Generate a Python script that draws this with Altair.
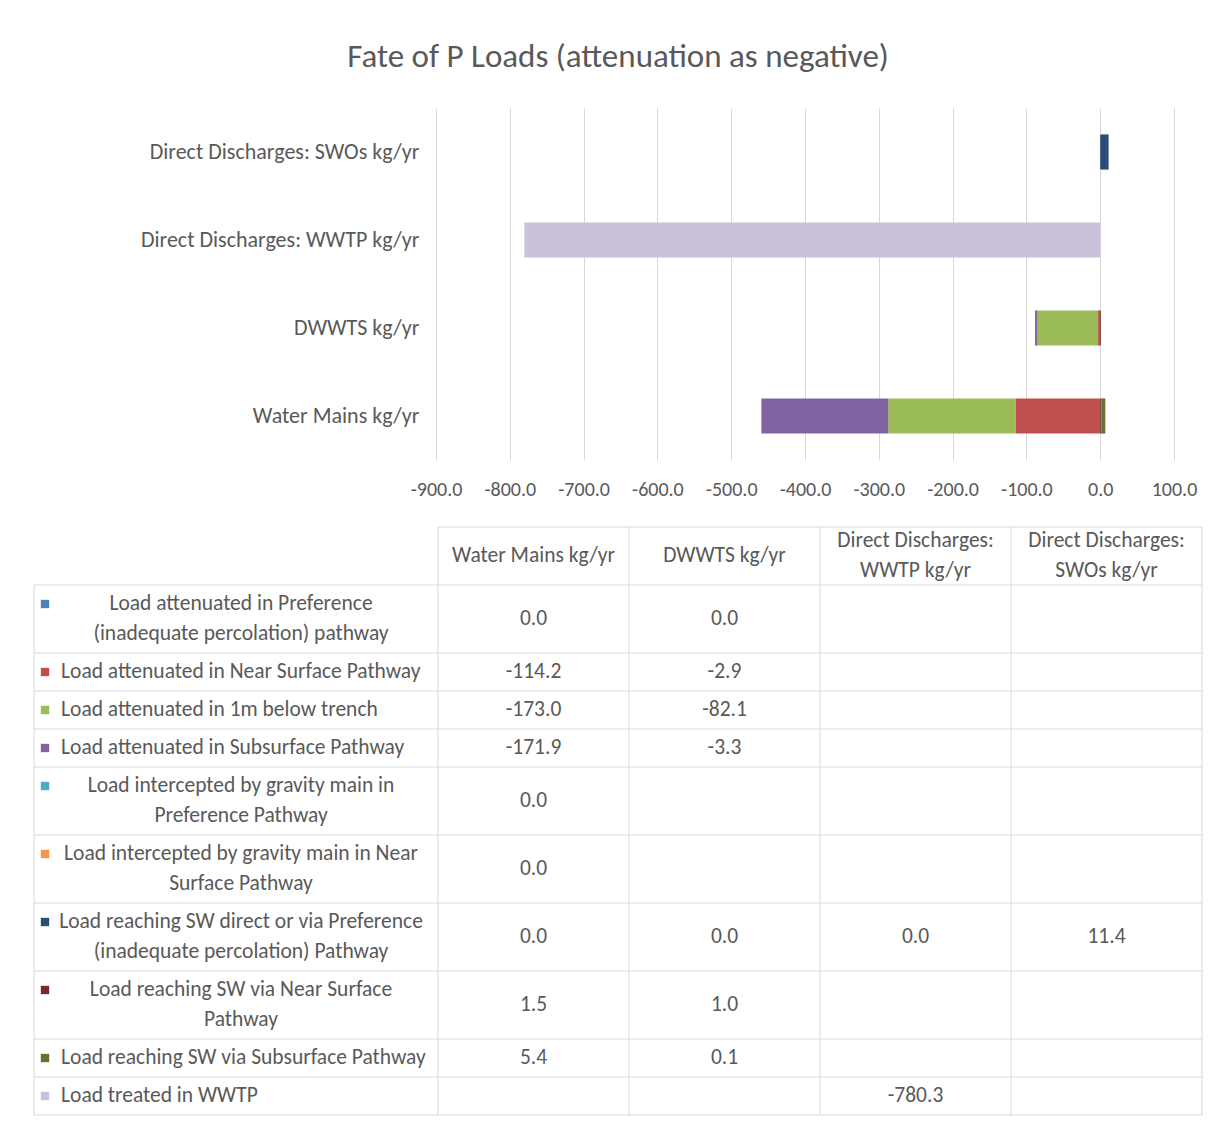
import altair as alt
import pandas as pd

# ---------------- data ----------------
TITLE = "Fate of P Loads (attenuation as negative)"

categories = [
    "Water Mains kg/yr",
    "DWWTS kg/yr",
    "Direct Discharges: WWTP kg/yr",
    "Direct Discharges: SWOs kg/yr",
]
header_labels = [
    "Water Mains kg/yr",
    "DWWTS kg/yr",
    "Direct Discharges:\nWWTP kg/yr",
    "Direct Discharges:\nSWOs kg/yr",
]

series = [
    "Load attenuated in Preference (inadequate percolation) pathway",
    "Load attenuated in Near Surface Pathway",
    "Load attenuated in 1m below trench",
    "Load attenuated in Subsurface Pathway",
    "Load intercepted by gravity main in Preference Pathway",
    "Load intercepted by gravity main in Near Surface Pathway",
    "Load reaching SW direct or via Preference (inadequate percolation) Pathway",
    "Load reaching SW via Near Surface Pathway",
    "Load reaching SW via Subsurface Pathway",
    "Load treated in WWTP",
]
series_table_labels = [
    "Load attenuated in Preference\n(inadequate percolation) pathway",
    "Load attenuated in Near Surface Pathway",
    "Load attenuated in 1m below trench",
    "Load attenuated in Subsurface Pathway",
    "Load intercepted by gravity main in\nPreference Pathway",
    "Load intercepted by gravity main in Near\nSurface Pathway",
    "Load reaching SW direct or via Preference\n(inadequate percolation) Pathway",
    "Load reaching SW via Near Surface\nPathway",
    "Load reaching SW via Subsurface Pathway",
    "Load treated in WWTP",
]
series_colors = [
    "#4F81BD", "#C0504D", "#9BBB59", "#8064A2", "#4BACC6",
    "#F79646", "#2C4D75", "#772C2A", "#5F7530", "#CCC1DA",
]

water_mains = [0.0, -114.2, -173.0, -171.9, 0.0, 0.0, 0.0, 1.5, 5.4, None]
dwwts = [0.0, -2.9, -82.1, -3.3, None, None, 0.0, 1.0, 0.1, None]
wwtp = [None, None, None, None, None, None, 0.0, None, None, -780.3]
swos = [None, None, None, None, None, None, 11.4, None, None, None]
columns_values = [water_mains, dwwts, wwtp, swos]

x_ticks = [-900, -800, -700, -600, -500, -400, -300, -200, -100, 0, 100]

# ---------------- style / layout ----------------
FONT = "Carlito, Lato, sans-serif"
TXT = "#595959"
GRID = "#D9D9D9"
FS_AXIS = 22
FS_TICK = 20
FS_TABLE = 21.5

PLOT_W = 738
PLOT_H = 352
LEGEND_W = 404          # width of the table's label column
COL_W = 191             # width of each data column
HEADER_H = 58
LINE_H = 30
ROW_PAD = 8
TABLE_LEFT = 402        # table's label column sits this far left of the plot origin

# ---------------- bar chart ----------------
bar_rows = []
for ci, (cat, vals) in enumerate(zip(categories, columns_values)):
    for si, v in enumerate(vals):
        if v is not None:
            bar_rows.append({"category": cat, "series": series[si], "idx": si, "value": v})
bar_df = pd.DataFrame(bar_rows)

color_enc = alt.Color("series:N", scale=alt.Scale(domain=series, range=series_colors), legend=None)

bars = alt.Chart(bar_df).mark_bar().encode(
    x=alt.X(
        "value:Q",
        stack="zero",
        scale=alt.Scale(domain=[-900, 100], nice=False, zero=False),
        axis=alt.Axis(
            values=x_ticks,
            labelExpr="replace(format(datum.value, '.1f'), '\u2212', '-')",
            title=None, domain=False, ticks=False, grid=True, gridColor=GRID,
            labelFlush=False, labelOverlap=False,
            labelPadding=19, labelFontSize=FS_TICK, labelColor=TXT, labelFont=FONT,
        ),
    ),
    y=alt.Y(
        "category:N",
        sort=list(reversed(categories)),
        scale=alt.Scale(paddingInner=0.6, paddingOuter=0.3),
        axis=alt.Axis(
            title=None, domain=False, ticks=False, grid=False,
            labelPadding=17, labelFontSize=FS_AXIS, labelColor=TXT, labelFont=FONT, labelLimit=400,
        ),
    ),
    color=color_enc,
    order=alt.Order("idx:Q"),
).properties(width=PLOT_W, height=PLOT_H)

# ---------------- data table ----------------
n_cols = len(categories)
TABLE_W = LEGEND_W + COL_W * n_cols
col_edges = [0, LEGEND_W] + [LEGEND_W + COL_W * (k + 1) for k in range(n_cols)]
col_centers = [LEGEND_W + COL_W * (k + 0.5) for k in range(n_cols)]

line_counts = [lbl.count("\n") + 1 for lbl in series_table_labels]
row_tops = []
y = HEADER_H
for lc in line_counts:
    row_tops.append(y)
    y += ROW_PAD + LINE_H * lc
TABLE_H = y
row_heights = [ROW_PAD + LINE_H * lc for lc in line_counts]

xs = alt.Scale(domain=[0, TABLE_W], range=[-TABLE_LEFT, TABLE_W - TABLE_LEFT])
ys = alt.Scale(domain=[0, TABLE_H], range=[0, TABLE_H])

# grid lines
h_rows = [{"x": LEGEND_W, "x2": TABLE_W, "y": 0}]
for t in row_tops + [TABLE_H]:
    h_rows.append({"x": 0, "x2": TABLE_W, "y": t})
hlines = alt.Chart(pd.DataFrame(h_rows)).mark_rule(color=GRID, strokeWidth=1).encode(
    x=alt.X("x:Q", scale=xs, axis=None), x2="x2:Q", y=alt.Y("y:Q", scale=ys, axis=None)
)
v_rows = [{"x": 0, "y": HEADER_H, "y2": TABLE_H}]
for e in col_edges[1:]:
    v_rows.append({"x": e, "y": 0, "y2": TABLE_H})
vlines = alt.Chart(pd.DataFrame(v_rows)).mark_rule(color=GRID, strokeWidth=1).encode(
    x=alt.X("x:Q", scale=xs, axis=None), y=alt.Y("y:Q", scale=ys, axis=None), y2="y2:Q"
)

text_kw = dict(fontSize=FS_TABLE, color=TXT, font=FONT, baseline="middle", lineBreak="\n", lineHeight=LINE_H)

# header (multi-line text is anchored at its first line)
head_rows = []
for k, h in enumerate(header_labels):
    nl = h.count("\n") + 1
    head_rows.append({"x": col_centers[k], "y": HEADER_H / 2 - LINE_H * (nl - 1) / 2, "t": h})
header = alt.Chart(pd.DataFrame(head_rows)).mark_text(align="center", **text_kw).encode(
    x=alt.X("x:Q", scale=xs, axis=None), y=alt.Y("y:Q", scale=ys, axis=None), text="t:N"
)

# values
cell_rows = []
for ci, vals in enumerate(columns_values):
    for si, v in enumerate(vals):
        if v is not None:
            cell_rows.append({"x": col_centers[ci], "y": row_tops[si] + row_heights[si] / 2, "t": f"{v:.1f}"})
cells = alt.Chart(pd.DataFrame(cell_rows)).mark_text(align="center", **text_kw).encode(
    x=alt.X("x:Q", scale=xs, axis=None), y=alt.Y("y:Q", scale=ys, axis=None), text="t:N"
)

# row labels
single_rows, multi_rows, key_rows = [], [], []
for si, lbl in enumerate(series_table_labels):
    first_line_y = row_tops[si] + ROW_PAD / 2 + LINE_H / 2
    if line_counts[si] == 1:
        single_rows.append({"x": 27, "y": first_line_y, "t": lbl})
    else:
        multi_rows.append({"x": LEGEND_W / 2 + 5, "y": first_line_y, "t": lbl})
    key_rows.append({"x": 11, "y": first_line_y, "series": series[si]})

labels1 = alt.Chart(pd.DataFrame(single_rows)).mark_text(align="left", **text_kw).encode(
    x=alt.X("x:Q", scale=xs, axis=None), y=alt.Y("y:Q", scale=ys, axis=None), text="t:N"
)
labels2 = alt.Chart(pd.DataFrame(multi_rows)).mark_text(align="center", **text_kw).encode(
    x=alt.X("x:Q", scale=xs, axis=None), y=alt.Y("y:Q", scale=ys, axis=None), text="t:N"
)
keys = alt.Chart(pd.DataFrame(key_rows)).mark_square(size=70, opacity=1).encode(
    x=alt.X("x:Q", scale=xs, axis=None), y=alt.Y("y:Q", scale=ys, axis=None), color=color_enc
)

table = alt.layer(hlines, vlines, header, cells, labels1, labels2, keys).properties(
    width=TABLE_W - TABLE_LEFT, height=TABLE_H
)

chart = alt.vconcat(bars, table, spacing=27).properties(
    title=alt.TitleParams(TITLE, fontSize=33, color=TXT, font=FONT, fontWeight="normal",
                          anchor="middle", offset=34),
    padding={"left": 25, "top": 33, "right": 10, "bottom": 10},
    background="white",
).configure_view(stroke=None)

chart.save("out.html", embed_options={"renderer": "svg", "actions": False})
